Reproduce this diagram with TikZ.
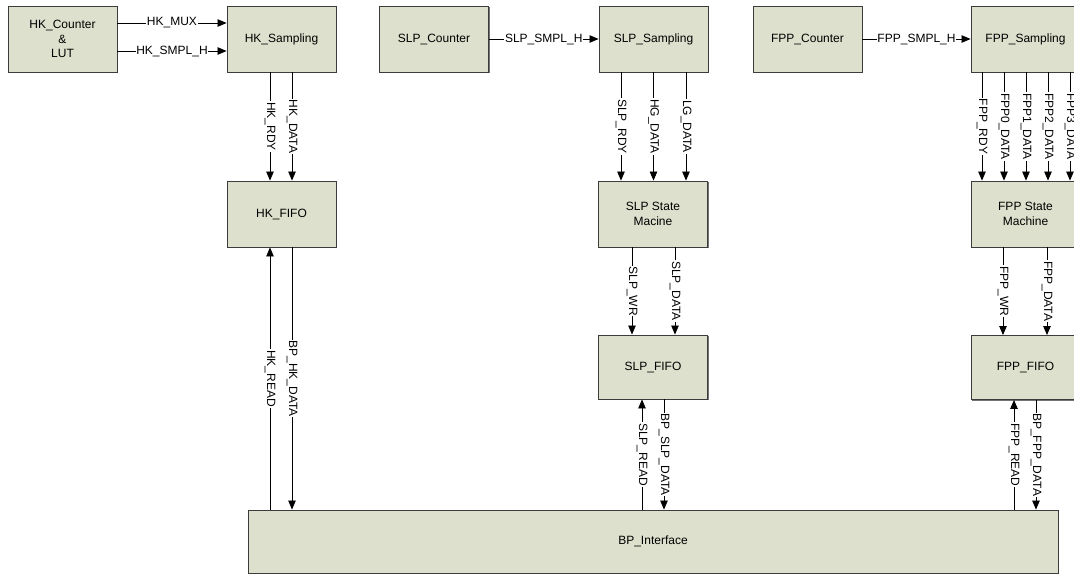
\documentclass[tikz,border=0pt]{standalone}
\usepackage{fontspec}
\setmainfont{Liberation Sans}
\usetikzlibrary{arrows.meta,shadows}
\definecolor{blockfill}{RGB}{221,224,204}
\definecolor{blockline}{RGB}{60,60,60}
\tikzset{
  block/.style={draw=blockline, line width=0.9pt, fill=blockfill,
    minimum width=109pt, minimum height=66pt, inner sep=2pt, align=center,
    font=\fontsize{12}{14.5}\selectfont,
    drop shadow={shadow xshift=1.2pt, shadow yshift=-1.2pt, fill=black!55, opacity=1}},
  sig/.style={draw=black, line width=0.8pt, -{Triangle[length=9pt,width=7.5pt]}},
  lbl/.style={fill=white, inner sep=0.8pt, font=\fontsize{12}{14}\selectfont},
  vlbl/.style={lbl, rotate=-90},
}
\begin{document}
\begin{tikzpicture}[x=1pt,y=-1pt]
\useasboundingbox (0,0) rectangle (1074,574);
\clip (0,0) rectangle (1074,574);

% top row: counters and samplers
\node[block] (hkc)  at (62.5,39)  {HK\_Counter\\\&\\LUT};
\node[block] (hks)  at (281.5,39) {HK\_Sampling};
\node[block] (slpc) at (434,39)   {SLP\_Counter};
\node[block] (slps) at (653.5,39) {SLP\_Sampling};
\node[block] (fppc) at (807.5,39) {FPP\_Counter};
\node[block] (fpps) at (1025.5,39){FPP\_Sampling};

% second row
\node[block] (hkfifo) at (281.5,214) {HK\_FIFO};
\node[block] (slpsm)  at (653,214)   {SLP State\\Macine};
\node[block] (fppsm)  at (1025.5,214){FPP State\\Machine};

% third row
\node[block, minimum height=64pt] (slpfifo) at (653,367)    {SLP\_FIFO};
\node[block, minimum height=64pt] (fppfifo) at (1025.5,367.5){FPP\_FIFO};

% backplane interface
\node[block, minimum width=810pt, minimum height=63pt] (bp) at (653,541.5) {BP\_Interface};

% counter -> sampler links
\coordinate (hkcA) at ([yshift=16pt]hkc.east);
\coordinate (hkcB) at ([yshift=-12pt]hkc.east);
\draw[sig] (hkcA) -- node[lbl]{HK\_MUX} (hkcA -| hks.west);
\draw[sig] (hkcB) -- node[lbl]{HK\_SMPL\_H} (hkcB -| hks.west);
\draw[sig] (slpc.east) -- node[lbl]{SLP\_SMPL\_H} (slps.west);
\draw[sig] (fppc.east) -- node[lbl]{FPP\_SMPL\_H} (fpps.west);

% HK chain
\coordinate (hk1) at ([xshift=-11.5pt]hks.south);
\coordinate (hk2) at ([xshift=10.5pt]hks.south);
\draw[sig] (hk1) -- node[vlbl]{HK\_RDY} (hk1 |- hkfifo.north);
\draw[sig] (hk2) -- node[vlbl]{HK\_DATA} (hk2 |- hkfifo.north);
\coordinate (hk3) at ([xshift=-11.5pt]hkfifo.south);
\coordinate (hk4) at ([xshift=10.5pt]hkfifo.south);
\draw[sig] (hk3 |- bp.north) -- node[vlbl]{HK\_READ} (hk3);
\draw[sig] (hk4) -- node[vlbl]{BP\_HK\_DATA} (hk4 |- bp.north);

% SLP chain
\coordinate (s1) at ([xshift=-32.5pt]slps.south);
\coordinate (s2) at (slps.south);
\coordinate (s3) at ([xshift=32.5pt]slps.south);
\draw[sig] (s1) -- node[vlbl]{SLP\_RDY} (s1 |- slpsm.north);
\draw[sig] (s2) -- node[vlbl]{HG\_DATA} (s2 |- slpsm.north);
\draw[sig] (s3) -- node[vlbl]{LG\_DATA} (s3 |- slpsm.north);
\coordinate (s4) at ([xshift=-21pt]slpsm.south);
\coordinate (s5) at ([xshift=22pt]slpsm.south);
\draw[sig] (s4) -- node[vlbl]{SLP\_WR} (s4 |- slpfifo.north);
\draw[sig] (s5) -- node[vlbl]{SLP\_DATA} (s5 |- slpfifo.north);
\coordinate (s6) at ([xshift=-11pt]slpfifo.south);
\coordinate (s7) at ([xshift=11pt]slpfifo.south);
\draw[sig] (s6 |- bp.north) -- node[vlbl]{SLP\_READ} (s6);
\draw[sig] (s7) -- node[vlbl]{BP\_SLP\_DATA} (s7 |- bp.north);

% FPP chain
\foreach \dx/\name [count=\i] in {-43.5/FPP\_RDY, -21.5/FPP0\_DATA, 0.5/FPP1\_DATA, 22.5/FPP2\_DATA, 44.5/FPP3\_DATA}{
  \coordinate (f\i) at ([xshift=\dx pt]fpps.south);
  \draw[sig] (f\i) -- node[vlbl]{\name} (f\i |- fppsm.north);
}
\coordinate (f6) at ([xshift=-22.5pt]fppsm.south);
\coordinate (f7) at ([xshift=21.5pt]fppsm.south);
\draw[sig] (f6) -- node[vlbl]{FPP\_WR} (f6 |- fppfifo.north);
\draw[sig] (f7) -- node[vlbl]{FPP\_DATA} (f7 |- fppfifo.north);
\coordinate (f8) at ([xshift=-11.5pt]fppfifo.south);
\coordinate (f9) at ([xshift=10.5pt]fppfifo.south);
\draw[sig] (f8 |- bp.north) -- node[vlbl]{FPP\_READ} (f8);
\draw[sig] (f9) -- node[vlbl]{BP\_FPP\_DATA} (f9 |- bp.north);
\end{tikzpicture}
\end{document}
